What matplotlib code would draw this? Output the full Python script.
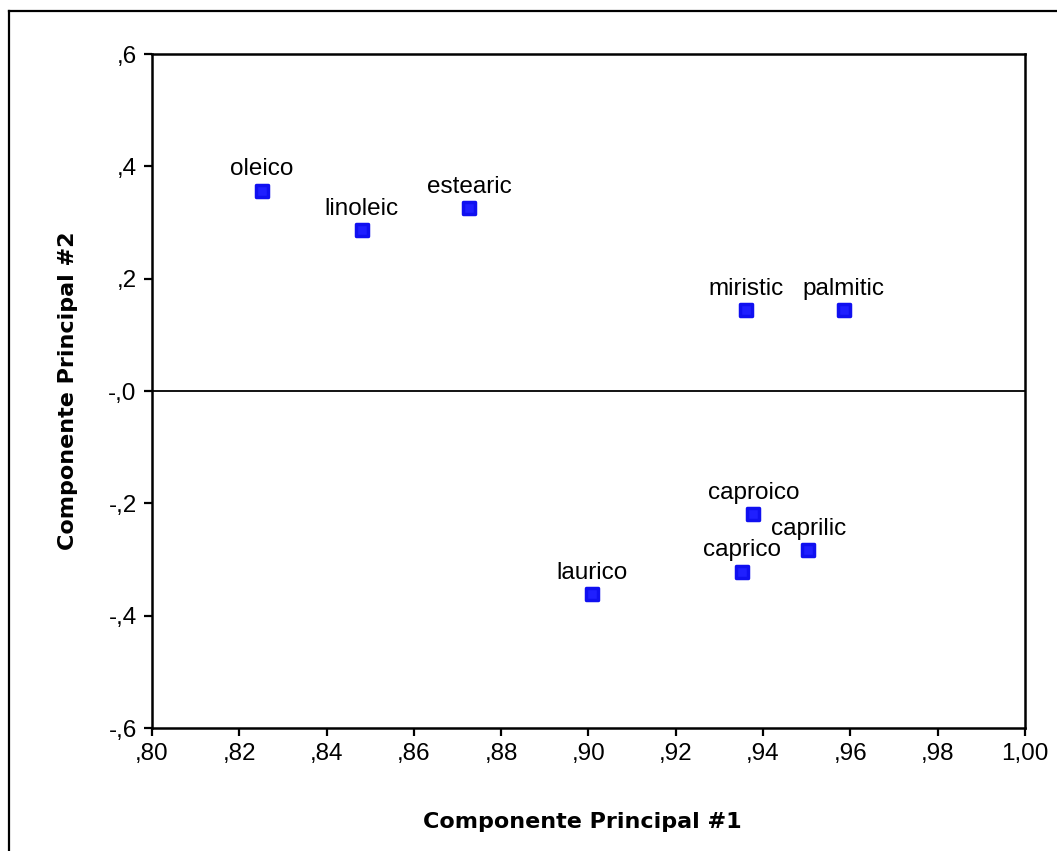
import matplotlib
matplotlib.use("Agg")
import matplotlib.pyplot as plt
from matplotlib.markers import MarkerStyle
from matplotlib.lines import Line2D

names = ["oleico", "linoleic", "estearic", "miristic", "palmitic",
         "caproico", "caprilic", "caprico", "laurico"]
pc1 = [0.8251, 0.8480, 0.8727, 0.9362, 0.9585, 0.9378, 0.9504, 0.9352, 0.9008]
pc2 = [0.3566, 0.2866, 0.3253, 0.1442, 0.1442, -0.2196, -0.2830, -0.3217, -0.3614]

xticks = [0.80, 0.82, 0.84, 0.86, 0.88, 0.90, 0.92, 0.94, 0.96, 0.98, 1.00]
xticklabels = [",80", ",82", ",84", ",86", ",88", ",90", ",92", ",94", ",96", ",98", "1,00"]
yticks = [-0.6, -0.4, -0.2, 0.0, 0.2, 0.4, 0.6]
yticklabels = ["-,6", "-,4", "-,2", "-,0", ",2", ",4", ",6"]

plt.rcParams['font.family'] = ['Liberation Sans', 'DejaVu Sans']

fig = plt.figure(figsize=(10.57, 8.51), dpi=100)
ax = fig.add_axes([0.1438, 0.1445, 0.8259, 0.792])

# outer frame (cut off at right / bottom)
fig.add_artist(Line2D([0.0085, 0.0085], [0.0, 0.987], color="black", lw=1.6,
                      transform=fig.transFigure))
fig.add_artist(Line2D([0.0085, 1.0], [0.987, 0.987], color="black", lw=1.6,
                      transform=fig.transFigure))

mk = MarkerStyle("s", joinstyle="round")
ax.scatter(pc1, pc2, marker=mk, s=70, color="#1f1fff", edgecolors="#1010f0",
           linewidths=2.5, zorder=3)

for n, x, y in zip(names, pc1, pc2):
    ax.annotate(n, (x, y), xytext=(0, 11), textcoords="offset points",
                ha="center", va="baseline", fontsize=17.5)

ax.axhline(0, color="black", lw=1.3, zorder=1)

ax.set_xlim(0.80, 1.00)
ax.set_ylim(-0.6, 0.6)
ax.set_xticks(xticks)
ax.set_xticklabels(xticklabels, fontsize=17.5)
ax.set_yticks(yticks)
ax.set_yticklabels(yticklabels, fontsize=17.5)
ax.tick_params(direction="out", length=6, width=1.6, pad=5)

for s in ax.spines.values():
    s.set_linewidth(1.8)

fig.text(0.551, 0.034, "Componente Principal #1", ha="center", va="center",
         fontsize=16, fontweight="heavy", family=["DejaVu Sans"])
fig.text(0.064, 0.5405, "Componente Principal #2", ha="center", va="center",
         rotation=90, fontsize=16, fontweight="heavy", family=["DejaVu Sans"])

fig.savefig("out.png", dpi=100)
